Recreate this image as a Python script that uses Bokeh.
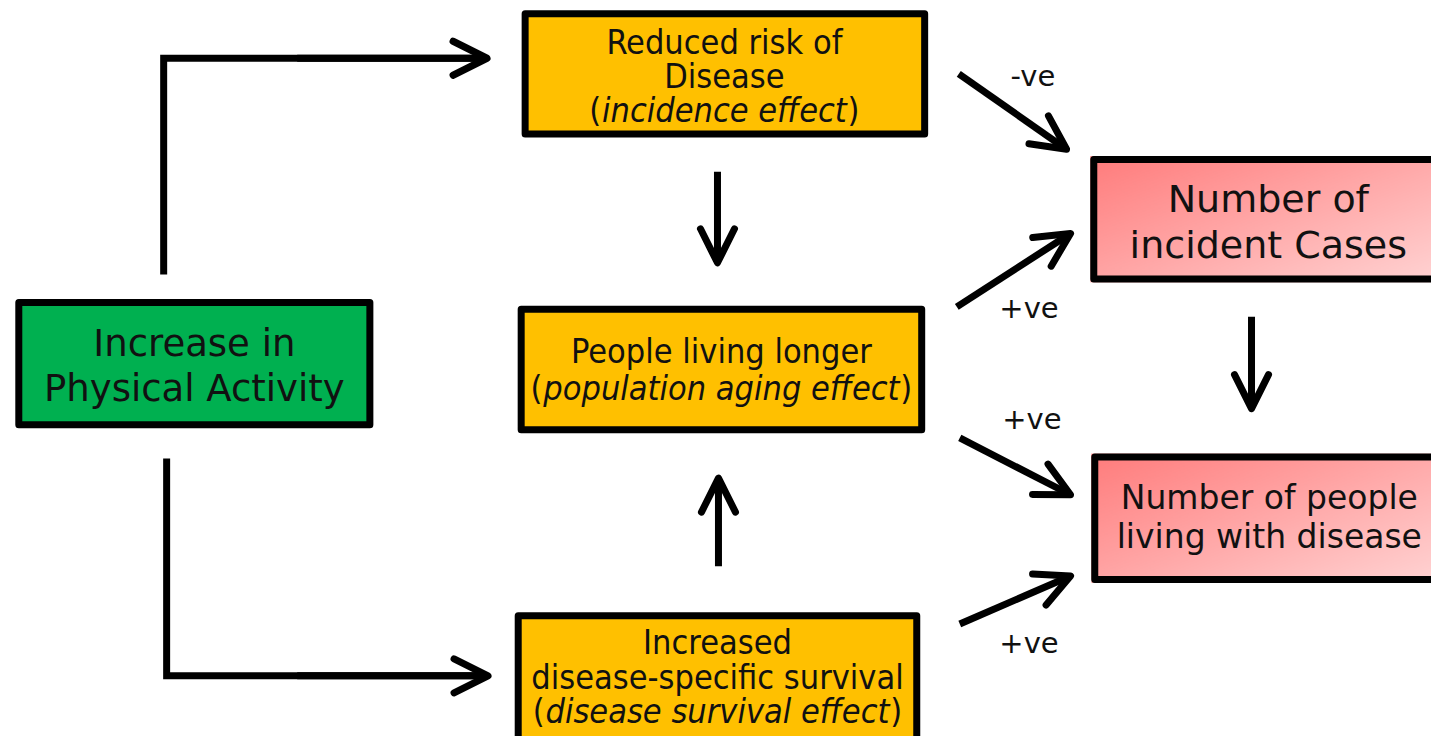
from bokeh.plotting import figure
from bokeh.models import Range1d, Arrow, OpenHead
from bokeh.core.properties import value
from bokeh.embed import file_html
from bokeh.resources import INLINE
import numpy as np

# ---- diagram content ----
green_lines = ["Increase in", "Physical Activity"]
incidence_lines = ["Reduced risk of", "Disease"]
incidence_italic = "incidence effect"
aging_lines = ["People living longer"]
aging_italic = "population aging effect"
survival_lines = ["Increased", "disease-specific survival"]
survival_italic = "disease survival effect"
cases_lines = ["Number of", "incident Cases"]
living_lines = ["Number of people", "living with disease"]
edge_labels = ["-ve", "+ve", "+ve", "+ve"]

# ---- styles ----
GREEN = "#00B050"
ORANGE = "#FFC000"
FONT = "DejaVu Sans"
COND = "DejaVu Sans Condensed, DejaVu Sans"
CF = 0.9  # condensed width factor

p = figure(width=1431, height=736, output_backend="svg", toolbar_location=None,
           x_range=Range1d(0, 1447), y_range=Range1d(752, 0), min_border=0,
           background_fill_color="white", border_fill_color="white")
p.axis.visible = False
p.grid.visible = False
p.outline_line_color = None


def box(l, r, t, b, fill):
    bw = 7
    p.quad(left=[l + bw / 2], right=[r - bw / 2], top=[t + bw / 2], bottom=[b - bw / 2],
           fill_color=fill, line_color="black", line_width=bw, line_join="round")


def grad_box(l, r, t, b):
    bw = 7
    H, Wd = 120, 300
    img = np.zeros((H, Wd), dtype=np.uint32)
    v = img.view(dtype=np.uint8).reshape((H, Wd, 4))
    yy, xx = np.mgrid[0:H, 0:Wd]
    tt = np.clip((xx / Wd) * 0.55 + (yy / H) * 0.45, 0, 1)
    c0 = np.array([255, 124, 124])
    c1 = np.array([255, 218, 218])
    for k in range(3):
        v[:, :, k] = (c0[k] * (1 - tt) + c1[k] * tt).astype(np.uint8)
    v[:, :, 3] = 255
    p.image_rgba(image=[img], x=l, y=t, dw=r - l, dh=b - t)
    p.quad(left=[l + bw / 2], right=[r - bw / 2], top=[t + bw / 2], bottom=[b - bw / 2],
           fill_color=None, line_color="black", line_width=bw, line_join="round")


CW = {'a': .613, 'c': .550, 'd': .635, 'e': .615, 'f': .352, 'g': .635, 'i': .278,
      'l': .278, 'n': .634, 'o': .612, 'p': .635, 'r': .411, 's': .521, 't': .392,
      'u': .634, 'v': .592, ' ': .318}


def txt(x, y, s, size, font=FONT, style="normal", align="center"):
    p.text(x=[x], y=[y], text=[s], text_font=value(font), text_font_size=f"{size}px",
           text_font_style=style, text_align=align, text_baseline="middle", text_color="#111111")


def paren_line(cx, cy, s, size):
    w = sum(CW.get(c, 0.6) for c in s) * size * CF * (1447 / 1431)
    txt(cx, cy, s, size, font=COND, style="italic")
    txt(cx - w / 2 - 1, cy, "(", size, font=COND, align="right")
    txt(cx + w / 2 + 1, cy, ")", size, font=COND, align="left")


# boxes
box(15, 377, 305, 437, GREEN)
box(527, 938, 10, 140, ORANGE)
box(523, 935, 312, 442, ORANGE)
box(520, 930, 625, 800, ORANGE)
grad_box(1102, 1500, 159, 288)
grad_box(1103, 1500, 463, 595)

# texts
OS = 34
for s, y in zip(green_lines, [350, 396]):
    txt(196, y, s, 37)
for s, y in zip(incidence_lines, [42, 77]):
    txt(732, y, s, OS, font=COND)
paren_line(732, 112, incidence_italic, OS)
for s, y in zip(aging_lines, [358]):
    txt(729, y, s, OS, font=COND)
paren_line(729, 396, aging_italic, OS)
for s, y in zip(survival_lines, [655, 691]):
    txt(725, y, s, OS, font=COND)
paren_line(725, 726, survival_italic, OS)
for s, y in zip(cases_lines, [203, 250]):
    txt(1282, y, s, 38)
for s, y in zip(living_lines, [508, 548]):
    txt(1283, y, s, 33)

for s, (x, y) in zip(edge_labels, [(1044, 77), (1040, 314), (1043, 428), (1040, 656)]):
    txt(x, y, s, 29)

# arrows
LW = 7
# elbow connectors
p.line(x=[165, 165, 488], y=[280, 59, 59], line_width=LW, line_color="black", line_join="miter")
p.line(x=[168, 168, 488], y=[468, 690, 690], line_width=LW, line_color="black", line_join="miter")

segs = [
    (300, 59, 492, 59),
    (300, 690, 493, 690),
    (725, 175, 725, 268),
    (726, 578, 726, 488),
    (1265, 323, 1265, 417),
    (969, 75, 1078, 152),
    (967, 313, 1082, 238),
    (970, 447, 1082, 505),
    (970, 637, 1082, 588),
]
for x0, y0, x1, y1 in segs:
    p.add_layout(Arrow(end=OpenHead(size=34, line_width=LW, line_color="black",
                                    line_cap="round", line_join="round"),
                       x_start=x0, y_start=y0, x_end=x1, y_end=y1,
                       line_width=LW, line_color="black"))

open("out.html", "w").write(file_html(p, INLINE))
